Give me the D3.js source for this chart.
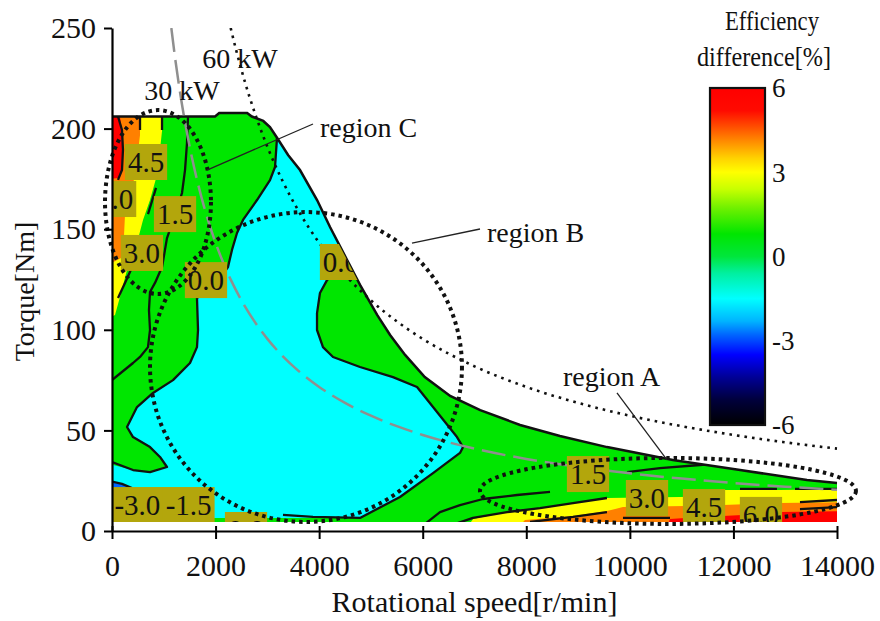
<!DOCTYPE html>
<html>
<head>
<meta charset="utf-8">
<script src="https://cdn.jsdelivr.net/npm/d3@7"></script>
<style>
  body { margin: 0; background: #fff; }
  svg { display: block; }
  text { font-family: "Liberation Serif", "Times New Roman", serif; fill: #111; }
</style>
</head>
<body>
<svg id="chart" width="880" height="621"></svg>
<script>
// ---------- data ----------
// maximum torque envelope [speed r/min, torque Nm]
const envelope = [[0,206],[1990,206],[2070,207.7],[2610,207.7],[2700,206],[2920,203.8],[3050,200.8],
  [3190,195.3],[3400,186.9],[3630,179.4],[3960,164.5],[4210,151.1],[4540,134.7],[4790,122.3],
  [5120,107.4],[5370,97.4],[5660,87.5],[6040,76.5],[6530,67.1],[7110,60.1],[7880,52.7],[8650,47.2],
  [9560,41.7],[10830,35.3],[12130,30.3],[13420,25.3],[14000,23.9]];
const minTorque = 4.5;

const speedTicks = [0,2000,4000,6000,8000,10000,12000,14000];
const torqueTicks = [0,50,100,150,200,250];

// colour bar (efficiency difference %)
const cbLevels = [6,5.2,4.6,4.1,3.5,3,2.4,1.7,0.8,0,-0.6,-1.5,-2.3,-2.8,-3.5,-4.3,-5.1,-6];
const cbColors = ["#ff0000","#ff0a00","#ff5000","#ff8c00","#ffd200","#ffff00","#c8ff00","#6cf000",
  "#00e600","#00e63c","#00f0a0","#00ffff","#00b4ff","#0064ff","#0000ff","#000096","#00003c","#000000"];
const cbTicks = [6,3,0,-3,-6];

// filled bands: level (%) and outline [speed, torque]
const bandLevels = [-1.5,-2.8,3,4.2,6,3,4.2,6];
const bandCyan = [[3186,208],[3186,194.3],[3148,180.9],[3051,174.4],[2800,164.5],[2530,154.6],[2414,148.1],
  [2317,139.7],[2240,131.2],[1989,122.3],[1641,115.8],[1661,99.9],[1641,91.4],[1506,83.5],[1178,75.0],
  [792,68.6],[483,61.6],[290,51.7],[406,46.7],[734,41.7],[927,36.8],[1062,31.8],[734,29.3],[406,30.3],
  [-200,34.3],[-200,6.5],[3881,6.5],[4789,6.5],[5561,16.9],[6199,28.8],[6720,38.8],[6778,41.7],
  [6662,46.7],[6199,61.6],[5890,71.6],[5426,76.5],[4789,81.5],[4268,86.5],[4074,91.4],[3959,99.9],
  [3959,108.3],[4016,118.3],[4152,124.7],[4499,133.7],[4789,139.7],[4210,209]];
const bandBlue = [[-200,24.6],[193,23.4],[386,21.4],[-200,19]];
const bandYellowLow = [[-200,215],[966,215],[966,198.8],[927,189.4],[869,176.9],[734,164.5],[599,154.6],
  [483,143.1],[290,129.7],[154,116.3],[58,107.4],[-200,103.9]];
const bandOrangeLow = [[-200,215],[541,215],[541,196.8],[483,184.4],[406,172.0],[251,157.1],[212,136.2],[-200,130.7]];
const bandRedLow = [[-200,215],[154,215],[154,205.8],[193,199.3],[212,189.4],[193,179.4],[116,175.4],[-200,174.5]];
const bandYellowHigh = [[6817,0],[6971,6.0],[7628,9.4],[8265,11.4],[8902,13.9],[9558,16.4],[10968,16.9],
  [11798,17.4],[11837,20.4],[12899,20.4],[14300,20.9],[14300,0]];
const bandOrangeHigh = [[7782,0],[7975,5.5],[8902,7.5],[9558,9.9],[9867,11.9],[11065,12.4],[11798,12.9],
  [12899,13.9],[14300,14.4],[14300,0]];
const bandRedHigh = [[10679,0],[10775,6.0],[11065,6.5],[11798,7.5],[12165,8.0],[12899,9.4],[14300,9.9],[14300,0]];
const bands = [bandCyan,bandBlue,bandYellowLow,bandOrangeLow,bandRedLow,bandYellowHigh,bandOrangeHigh,bandRedHigh];

// contour lines [speed, torque]
const contourLines = [
  [[3186,195.3],[3148,180.9],[3051,174.4],[2800,164.5],[2530,154.6],[2414,148.1],[2317,139.7],[2240,131.2],
   [1989,122.3],[1641,115.8],[1661,99.9],[1641,91.4],[1506,83.5],[1178,75.0],[792,68.6],[483,61.6],
   [290,51.7],[406,46.7],[734,41.7],[927,36.8],[1062,31.8],[734,29.3],[406,30.3],[0,34.3]],
  [[4499,133.7],[4152,124.7],[4016,118.3],[3959,108.3],[3959,99.9],[4074,91.4],[4268,86.5],[4789,81.5],
   [5426,76.5],[5890,71.6],[6199,61.6],[6662,46.7],[6778,41.7],[6720,38.8],[6199,28.8],[5561,16.9],
   [4789,6.5],[3881,7],[3302,8]],
  [[0,24.6],[193,23.4],[386,21.4]],
  [[116,206],[193,199.3],[212,189.4],[193,179.4],[116,174.5]],
  [[541,206],[541,199.3]],
  [[966,206],[966,199.3]],
  [[850,170.5],[695,157.5]],
  [[406,132.2],[251,123.3],[116,115.8]],
  [[1468,206],[1448,192.8],[1410,179.4],[1352,168.0],[1217,157.1],[1062,145.6],[1023,139.7],[966,131.2],
   [830,123.3],[734,118.8],[714,109.8],[734,99.9],[695,91.4],[541,86.5],[406,83.5],[0,75.0]],
  [[6044,3.5],[6334,9.4],[6720,12.9],[7164,15.9],[7821,17.9],[8458,19.4]],
  [[6623,3.5],[6971,6.5],[7628,9.4],[8265,11.4],[8902,13.9],[9558,16.4]],
  [[8072,4.5],[8902,7.0],[9558,9.4]],
  [[9867,6.5],[10775,6.5]],
  [[9945,29.3],[10582,31.3],[11354,32.8],[11779,33.8]],
  [[12127,20.9],[12841,20.9]],
  [[13189,20.9],[14000,20.9]],
  [[13285,14.4],[14000,15.4]],
  [[13285,10.9],[14000,11.9]]
];

// contour value labels
const labelText = ["4.5","6.0","1.5","3.0","0.0","0.0","-3.0","-1.5","0.0","1.5","3.0","4.5","6.0"];
const labelSpeed = [657,60,1217,579,1815,4422,490,1480,2588,9192,10331,11432,12532];
const labelTorque = [183.4,165,157.5,138.2,124.7,133.7,12.9,12.9,0.5,28.3,16.4,11.9,8.0];

// constant power curves (kW)
const powerKW = [30, 60];
const powerText = ["30 kW","60 kW"];
const powerTextSpeed = [1352, 2472];
const powerTextTorque = [214.2, 230.1];
const curveSpeeds = [1100,1200,1300,1400,1500,1600,1800,2000,2200,2300,2500,2800,3000,3300,3600,4000,4500,
  5000,5500,6000,7000,8000,9000,10000,11000,12000,13000,14000];

// evaluated regions: centre [speed, torque], radii [speed, torque]
const regionNames = ["region C","region B","region A"];
const regionCentre = [[888,163.5],[3746,81.5],[10736,19.9]];
const regionRadius = [[1023,45.7],[3012,77.0],[3630,16.4]];
const regionTextPos = [[4017,195.8],[7241,143.6],[8709,72.1]];
const regionLeader = [[[3881,202.3],[1834,179.4]],[[7106,150.1],[5793,143.1]],[[9751,68.6],[10717,35.3]]];

// ---------- drawing ----------
const svg = d3.select("#chart");
const x = d3.scaleLinear().domain([0,14000]).range([112,837]);
const y = d3.scaleLinear().domain([0,250]).range([531,28]);
const color = d3.scaleLinear().domain(cbLevels).range(cbColors).interpolate(d3.interpolateRgb);
const line = d3.line().x(d => x(d[0])).y(d => y(d[1]));

const defs = svg.append("defs");
const envPoly = [[0,minTorque], ...envelope, [14000,minTorque]];
defs.append("clipPath").attr("id","envClip").append("path").attr("d", line(envPoly) + "Z");
defs.append("clipPath").attr("id","plotClip").append("rect")
  .attr("x", x(0)).attr("y", y(250)).attr("width", x(14000) - x(0) + 3).attr("height", y(0) - y(250));

// operating area fill
const area = svg.append("g").attr("clip-path","url(#envClip)");
area.append("path").attr("d", line(envPoly) + "Z").attr("fill", color(0.8));
bands.forEach((b, i) => {
  area.append("path").attr("d", line(b) + "Z").attr("fill", color(bandLevels[i]));
});
contourLines.forEach(l => {
  area.append("path").attr("d", line(l)).attr("fill","none").attr("stroke","#111")
    .attr("stroke-width", 2.3).attr("stroke-linejoin","round");
});

// envelope outline
svg.append("path").attr("d", line(envelope)).attr("fill","none").attr("stroke","#111").attr("stroke-width",2.5);

// constant power curves
const powerG = svg.append("g").attr("clip-path","url(#plotClip)");
powerKW.forEach((p, i) => {
  const tq = n => p * 1000 * 60 / (2 * Math.PI * n);
  const n0 = p * 1000 * 60 / (2 * Math.PI * 250);
  const pts = [[n0, 250], ...curveSpeeds.filter(n => n > n0).map(n => [n, tq(n)])];
  powerG.append("path").attr("d", d3.line().curve(d3.curveMonotoneX).x(d => x(d[0])).y(d => y(d[1]))(pts))
    .attr("fill","none")
    .attr("stroke", i === 0 ? "#8f8f8f" : "#111")
    .attr("stroke-width", i === 0 ? 2.5 : 2.6)
    .attr("stroke-dasharray", i === 0 ? "24 8" : "2.6 5");
});
powerText.forEach((t, i) => {
  svg.append("text").attr("x", x(powerTextSpeed[i])).attr("y", y(powerTextTorque[i]))
    .attr("text-anchor","middle").attr("font-size", 28).text(t);
});

// contour value labels
const labG = svg.append("g").attr("clip-path","url(#envClip)");
labelText.forEach((t, i) => {
  const g = labG.append("g").attr("transform", `translate(${x(labelSpeed[i])},${y(labelTorque[i])})`);
  const tx = g.append("text").attr("text-anchor","middle").attr("dy","0.34em").attr("font-size", 29).text(t);
  const w = tx.node().getComputedTextLength() + 6;
  g.insert("rect","text").attr("x", -w/2).attr("y", -18).attr("width", w).attr("height", 36).attr("fill","#b3a60c");
});

// region ellipses and names
regionNames.forEach((name, i) => {
  const [cs, ct] = regionCentre[i];
  const [rs, rt] = regionRadius[i];
  svg.append("ellipse").attr("cx", x(cs)).attr("cy", y(ct))
    .attr("rx", x(cs + rs) - x(cs)).attr("ry", y(ct - rt) - y(ct))
    .attr("fill","none").attr("stroke","#111").attr("stroke-width", 4).attr("stroke-dasharray","3.5 4");
  const ld = regionLeader[i];
  svg.append("line").attr("x1", x(ld[0][0])).attr("y1", y(ld[0][1])).attr("x2", x(ld[1][0])).attr("y2", y(ld[1][1]))
    .attr("stroke","#222").attr("stroke-width", 1.3);
  svg.append("text").attr("x", x(regionTextPos[i][0])).attr("y", y(regionTextPos[i][1]))
    .attr("font-size", 28).text(name);
});

// axes
const gx = svg.append("g").attr("transform", `translate(0,${y(0)})`)
  .call(d3.axisBottom(x).tickValues(speedTicks).tickSize(8).tickSizeOuter(0).tickPadding(16).tickFormat(d3.format("d")));
gx.selectAll(".tick line").attr("y1", -5).attr("stroke-width", 2);
gx.select(".domain").attr("stroke-width", 2.2);
gx.selectAll(".tick text").attr("font-size", 30).style("font-family", '"Liberation Serif", serif').attr("fill","#111");

const gy = svg.append("g").attr("transform", `translate(${x(0)},0)`)
  .call(d3.axisLeft(y).tickValues(torqueTicks).tickSize(8).tickSizeOuter(0).tickPadding(8));
gy.selectAll(".tick line").attr("stroke-width", 2);
gy.select(".domain").attr("stroke-width", 2.2);
gy.selectAll(".tick text").attr("font-size", 30).style("font-family", '"Liberation Serif", serif').attr("fill","#111");

svg.append("text").attr("x", (x(0) + x(14000)) / 2).attr("y", 612).attr("text-anchor","middle")
  .attr("font-size", 30).text("Rotational speed[r/min]");
svg.append("text").attr("transform", `translate(34,${(y(0) + y(250)) / 2 + 12}) rotate(-90)`)
  .attr("text-anchor","middle").attr("font-size", 28).text("Torque[Nm]");

// colour bar
const cb = d3.scaleLinear().domain([-6,6]).range([425,88]);
const grad = defs.append("linearGradient").attr("id","cbGrad").attr("x1",0).attr("y1",0).attr("x2",0).attr("y2",1);
cbLevels.forEach((v, i) => grad.append("stop").attr("offset", (6 - v) / 12).attr("stop-color", cbColors[i]));
svg.append("rect").attr("x", 710).attr("y", cb(6)).attr("width", 55).attr("height", cb(-6) - cb(6))
  .attr("fill","url(#cbGrad)").attr("stroke","#111").attr("stroke-width", 2.2);
cbTicks.forEach(v => {
  svg.append("text").attr("x", 772).attr("y", cb(v)).attr("dy","0.35em").attr("font-size", 27).text(v);
});
svg.append("text").attr("x", 772).attr("y", 30).attr("text-anchor","middle").attr("font-size", 28)
  .attr("textLength", 94).attr("lengthAdjust","spacingAndGlyphs").text("Efficiency");
svg.append("text").attr("x", 764).attr("y", 66).attr("text-anchor","middle").attr("font-size", 28)
  .attr("textLength", 134).attr("lengthAdjust","spacingAndGlyphs").text("difference[%]");
</script>
</body>
</html>
